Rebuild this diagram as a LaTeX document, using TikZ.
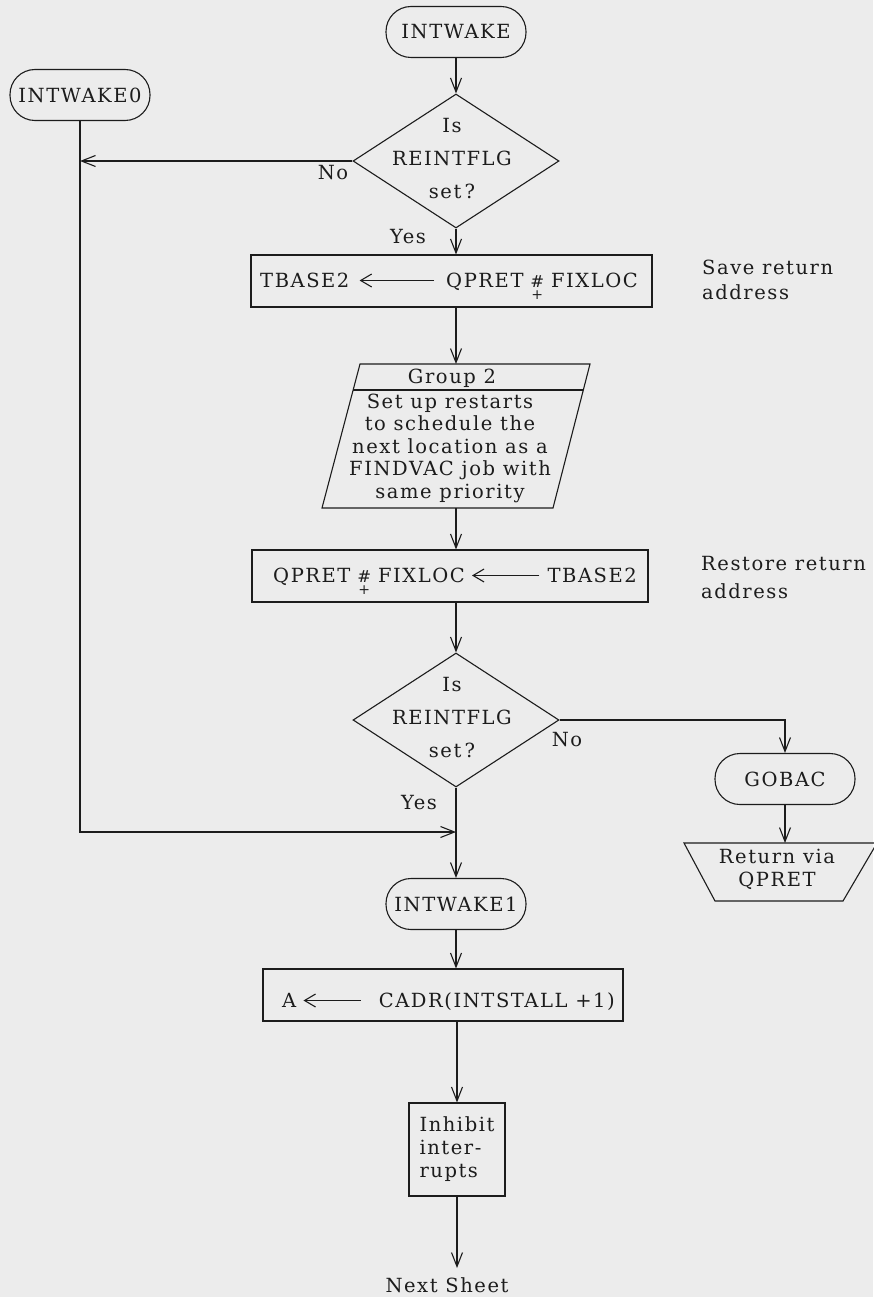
\documentclass[tikz,border=0pt]{standalone}
\usepackage{fontspec}
\setmainfont{DejaVu Serif}[LetterSpace=8.0]
\usetikzlibrary{arrows.meta,shapes.geometric}
\definecolor{paper}{RGB}{236,236,236}
\definecolor{ink}{RGB}{28,28,28}
% "#" with a small "+" set below it
\newcommand{\hashplus}{\makebox[12pt]{\fontsize{16.5}{16.5}\selectfont\#}\llap{\makebox[12pt]{\raisebox{-12pt}{\fontsize{14}{14}\selectfont +}}}}
\begin{document}
\begin{tikzpicture}[x=1pt,y=-1pt,
  every node/.style={text=ink, font=\fontsize{19.5}{22.5}\selectfont},
  line/.style={draw=ink, line width=1.1pt},
  arr/.style={line, -{Straight Barb[length=14pt,width=11pt]}},
  inarr/.style={line, -{Straight Barb[length=11pt,width=13pt]}},
  term/.style={draw=ink, line width=1.1pt, rounded corners=25pt, minimum width=140pt, minimum height=51pt, inner sep=2pt},
  dia/.style={draw=ink, line width=1.1pt, diamond, minimum width=206pt, minimum height=134pt, inner sep=0pt},
  procbox/.style={draw=ink, line width=1.1pt, rectangle, inner sep=0pt},
  tx/.style={inner sep=0pt},
  dtx/.style={inner sep=0pt, align=center, font=\fontsize{19.5}{33}\selectfont},
]
\fill[paper] (0,0) rectangle (873,1297);
\useasboundingbox (0,0) rectangle (873,1297);

% entry points
\node[term] (iw) at (456,32) {INTWAKE};
\node[term] (iw0) at (80,95) {INTWAKE0};

% first test
\node[dia] (d1) at (456,161) {};
\node[dtx] (d1t) at (452,159) {Is\\REINTFLG\\set\,?};
\node[tx] (no1) at (333,173) {No};
\node[tx] (yes1) at (408,237) {Yes};

% save return address
\node[procbox, minimum width=401pt, minimum height=52pt] (b1) at (451.5,281) {};
\node[tx, anchor=base west] (b1l) at (260,287) {TBASE2};
\node[tx, anchor=base east] (b1r) at (638,287) {QPRET \hashplus\ FIXLOC};
\draw[inarr] ([shift={(-12,-6.5)}]b1r.base west) -- ([shift={(10,-6.5)}]b1l.base east);
\node[tx, anchor=west, align=left, font=\fontsize{19.5}{25}\selectfont] (c1) at (702,280) {Save return\\address};

% Group 2 parallelogram
\coordinate (p1) at (360,364);
\coordinate (p2) at (590,364);
\coordinate (p3) at (553,508);
\coordinate (p4) at (322,508);
\coordinate (pd1) at (353,390);
\coordinate (pd2) at (583,390);
\coordinate (pt) at (456,364);
\coordinate (pb) at (456,508);
\draw[line] (p1) -- (p2) -- (p3) -- (p4) -- cycle;
\draw[line] (pd1) -- (pd2);
\node[tx] (g2) at (452,378) {Group 2};
\node[tx, align=center, font=\fontsize{19.5}{22.5}\selectfont] (g2b) at (450,448) {Set up restarts\\to schedule the\\next location as a\\FINDVAC job with\\same priority};

% restore return address
\node[procbox, minimum width=396pt, minimum height=52pt] (b2) at (450,576) {};
\node[tx, anchor=base east] (b2l) at (465,582) {QPRET \hashplus\ FIXLOC};
\node[tx, anchor=base east] (b2r) at (637,582) {TBASE2};
\draw[inarr] ([shift={(-8,-6.5)}]b2r.base west) -- ([shift={(7,-6.5)}]b2l.base east);
\node[tx, anchor=west, align=left, font=\fontsize{19.5}{28}\selectfont] (c2) at (701,578) {Restore return\\address};

% second test
\node[dia] (d2) at (456,720) {};
\node[dtx] (d2t) at (452,718) {Is\\REINTFLG\\set\,?};
\node[tx] (no2) at (567,740) {No};
\node[tx] (yes2) at (419,803) {Yes};

% exit branch
\node[term] (gob) at (785,779) {GOBAC};
\coordinate (t1) at (684,843);
\coordinate (t2) at (877,843);
\coordinate (t3) at (843,901);
\coordinate (t4) at (715,901);
\coordinate (tt) at (785,843);
\draw[line] (t1) -- (t2) -- (t3) -- (t4) -- cycle;
\node[tx, align=center, font=\fontsize{19.5}{23}\selectfont] (rv) at (777,869) {Return via\\QPRET};

% common continuation
\coordinate (jn) at (456,832);
\node[term] (iw1) at (456,904) {INTWAKE1};
\node[procbox, minimum width=360pt, minimum height=52pt] (b3) at (443,995) {};
\node[tx, anchor=base west] (b3l) at (282,1007) {A};
\node[tx, anchor=base east] (b3r) at (615,1007) {CADR(INTSTALL +1)};
\draw[inarr] ([shift={(-18,-6.5)}]b3r.base west) -- ([shift={(7,-6.5)}]b3l.base east);
\node[procbox, minimum width=96pt, minimum height=93pt, align=left, font=\fontsize{19.5}{23}\selectfont] (b4) at (457,1149.5) {Inhibit\\inter-\\rupts};
\node[tx] (ns) at (447,1285) {Next Sheet};
\coordinate (nsa) at (457,1268);

% flow lines
\draw[arr] (iw.south) -- (d1.north);
\draw[arr] (d1.west) -- (d1.west -| iw0.south);
\draw[arr] (iw0.south) |- (jn);
\draw[arr] (d1.south) -- (d1.south |- b1.north);
\draw[arr] (b1.south -| pt) -- (pt);
\draw[arr] (pb) -- (pb |- b2.north);
\draw[arr] (b2.south -| d2.north) -- (d2.north);
\draw[arr] (d2.east) -| (gob.north);
\draw[arr] (gob.south) -- (tt);
\draw[arr] (d2.south) -- (iw1.north);
\draw[arr] (iw1.south) -- (iw1.south |- b3.north);
\draw[arr] (b3.south -| b4.north) -- (b4.north);
\draw[arr] (b4.south) -- (b4.south |- nsa);
\end{tikzpicture}
\end{document}
